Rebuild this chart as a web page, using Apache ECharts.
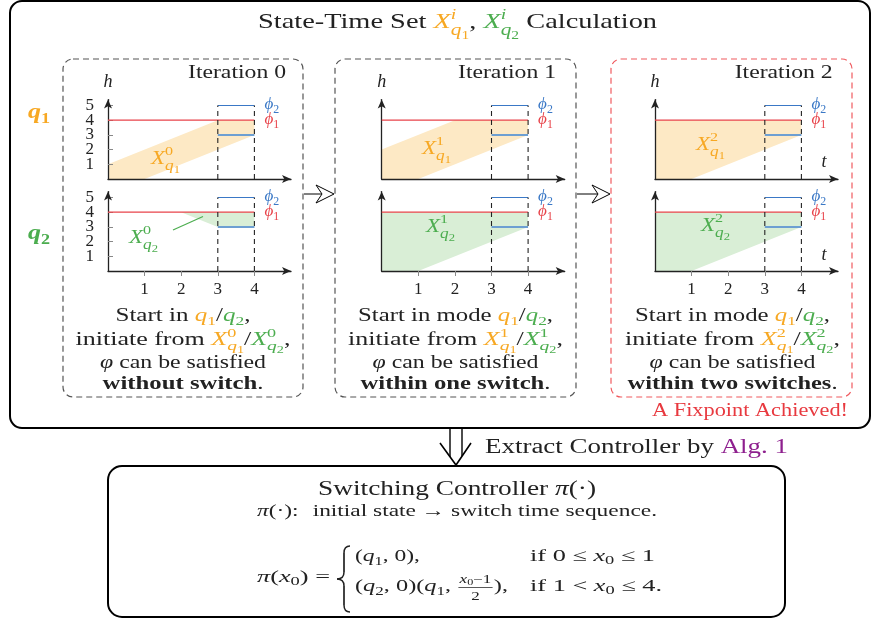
<!DOCTYPE html>
<html><head><meta charset="utf-8">
<script src="https://cdn.jsdelivr.net/npm/echarts@6/dist/echarts.min.js"></script>
<style>html,body{margin:0;padding:0;background:#fff}#c{width:873px;height:618px}</style>
</head><body><div id="c"></div>
<script>
// ---------------- data ----------------
const xTicks = [1, 2, 3, 4];
const yTicks = [1, 2, 3, 4, 5];
const phi1 = [[0, 4], [4, 4]];
const phi2Top = [[3, 5], [4, 5]];
const phi2Bottom = [[3, 3], [4, 3]];
const guide3 = [[3, 0], [3, 5]];
const guide4 = [[4, 0], [4, 5]];
const X0q1 = [[0, 0], [0, 1], [3, 4], [4, 4], [4, 3], [1, 0]];
const X0q2 = [[2, 4], [4, 4], [4, 3], [3, 3]];
const X1q1 = [[0, 0], [0, 2], [2, 4], [4, 4], [4, 3], [1, 0]];
const X1q2 = [[0, 0], [0, 4], [4, 4], [4, 3], [1, 0]];
const X2q1 = [[0, 0], [0, 4], [4, 4], [4, 3], [1, 0]];
const X2q2 = [[0, 0], [0, 4], [4, 4], [4, 3], [1, 0]];
const iterationNames = ['Iteration 0', 'Iteration 1', 'Iteration 2'];
const endings = ['without switch', 'within one switch', 'within two switches'];

// ---------------- layout ----------------
const PX = [108, 381.7, 655], UX = 36.6, OY = [179, 271], UY = 14.7, XMAX = 5, YMAX = 5.4;
const CX = [183, 455.5, 732.5];
const INK = '#222', OC = '#f7a823', GC = '#4cad4f';
const FILL_O = '#fde9c5', FILL_G = '#d9eed6';
const RED = '#e8434a', BLUE = '#3a78c6', LBLUE = '#6d9fd2';
const FF = '"Liberation Serif", "DejaVu Serif", serif';

const cv = document.createElement('canvas').getContext('2d');
function fontStr(it, b, size) { return (it ? 'italic ' : '') + (b ? 'bold ' : '') + size.toFixed(2) + 'px ' + FF; }
function measure(t, it, b, size) { cv.font = fontStr(it, b, size); return cv.measureText(t).width; }

function lay(tokens, base, x, out) {
  const start = x;
  for (let tk of tokens) {
    if (typeof tk === 'string') tk = { t: tk };
    if (tk.sp != null) { x += tk.sp * base; continue; }
    if (tk.stack) {
      const w1 = lay(tk.sup, base, x, out);
      const w2 = lay(tk.sub, base, x, out);
      x += Math.max(w1, w2); continue;
    }
    if (tk.frac) {
      const wn = lay(tk.num, base, 0, null), wd = lay(tk.den, base, 0, null);
      const w = Math.max(wn, wd) + 0.2 * base;
      lay(tk.num, base, x + (w - wn) / 2, out);
      lay(tk.den, base, x + (w - wd) / 2, out);
      if (out) out.push({ type: 'line', z: 50, shape: { x1: x + 0.05 * base, y1: -0.27 * base, x2: x + w - 0.05 * base, y2: -0.27 * base }, style: { stroke: tk.c || INK, lineWidth: 0.8 } });
      x += w; continue;
    }
    const size = base * (tk.s || 1);
    const w = measure(tk.t, tk.it, tk.b, size);
    if (out) out.push({
      type: 'text', z: 50, x: x, y: (tk.dy || 0) * base - 0.34 * size,
      style: { text: tk.t, font: fontStr(tk.it, tk.b, size), fill: tk.c || INK,
        align: 'left', verticalAlign: 'middle', textAlign: 'left', textVerticalAlign: 'middle' }
    });
    x += w + (tk.k || 0) * base;
  }
  return x - start;
}
function mline(x, y, tokens, o) {
  const base = o.size, kids = [];
  const nat = lay(tokens, base, 0, null);
  const k = o.w ? o.w / nat : 1;
  const sx = o.align === 'left' ? 0 : o.align === 'right' ? -nat : -nat / 2;
  lay(tokens, base, sx, kids);
  return { type: 'group', x: x, y: y, z: 50, scaleX: k, scaleY: 1, children: kids, silent: true };
}
function Xset(sup, sub, c, supIt) {
  return [{ t: 'X', it: 1, c: c },
    { stack: 1, sup: [{ t: sup, it: supIt, s: 0.7, dy: -0.45, c: c }],
      sub: [{ t: 'q', it: 1, s: 0.75, dy: 0.3, c: c }, { t: sub, s: 0.55, dy: 0.45, c: c }] }];
}
function qsub(n, c, b) { return [{ t: 'q', it: 1, b: b, c: c }, { t: n, s: 0.7, dy: 0.22, c: c, b: b }]; }

// ---------------- chart components ----------------
const chart = echarts.init(document.getElementById('c'), null, { renderer: 'canvas' });
const grids = [], xAxes = [], yAxes = [], extraY = [], series = [];
const sets = [[X0q1, X0q2], [X1q1, X1q2], [X2q1, X2q2]];
const labelFont = { fontFamily: FF, fontSize: 17, color: INK };
const yOdd = yTicks.filter(v => v % 2 === 1), yEven = yTicks.filter(v => v % 2 === 0);

function polySeries(g, verts, color) {
  return {
    type: 'custom', xAxisIndex: g, yAxisIndex: g, data: verts, silent: true, z: 1, clip: false,
    renderItem: (params, api) => {
      if (params.dataIndex !== 0) return null;
      return { type: 'polygon', shape: { points: verts.map(v => api.coord(v)) }, style: { fill: color } };
    }
  };
}
function lineSeries(g, data, color, width, dash) {
  return { type: 'line', xAxisIndex: g, yAxisIndex: g, data: data, symbol: 'none', silent: true, z: 4,
    lineStyle: { color: color, width: width, type: dash ? [5, 4] : 'solid', cap: 'butt' } };
}
function yAxisDef(g, show, vals, line) {
  return {
    gridIndex: g, type: 'value', min: 0, max: YMAX, interval: 1, z: 3, position: 'left',
    axisLine: { show: line, onZero: false, lineStyle: { color: '#222', width: 1.3 }, symbol: ['none', 'arrow'], symbolSize: [6, 9] },
    splitLine: { show: false },
    axisTick: { show: show, inside: true, customValues: vals, length: 5, lineStyle: { color: '#888', width: 1 } },
    axisLabel: { show: show, customValues: vals, margin: 14, showMinLabel: true, showMaxLabel: true, ...labelFont }
  };
}

for (let p = 0; p < 3; p++) {
  for (let r = 0; r < 2; r++) {
    const g = p * 2 + r;
    grids.push({ left: PX[p], top: OY[r] - YMAX * UY, width: XMAX * UX, height: YMAX * UY, outerBoundsMode: 'none' });
    const showX = r === 1;
    xAxes.push({
      gridIndex: g, type: 'value', min: 0, max: XMAX, interval: 1, z: 3,
      axisLine: { show: true, onZero: false, lineStyle: { color: '#222', width: 1.3 }, symbol: ['none', 'arrow'], symbolSize: [6, 9] },
      splitLine: { show: false },
      axisTick: { show: showX, customValues: xTicks, length: 5, lineStyle: { color: '#888', width: 1 } },
      axisLabel: { show: showX, customValues: xTicks, margin: 10, showMinLabel: true, showMaxLabel: true, ...labelFont }
    });
    const showY = p === 0;
    yAxes.push(yAxisDef(g, showY, yOdd, true));
    if (showY) extraY.push(yAxisDef(g, true, yEven, false));
    series.push(polySeries(g, sets[p][r], r === 0 ? FILL_O : FILL_G));
    series.push(lineSeries(g, phi1, RED, 1.3));
    series.push(lineSeries(g, phi2Top, BLUE, 1.2));
    series.push(lineSeries(g, phi2Bottom, LBLUE, 2));
    series.push(lineSeries(g, guide3, '#222', 1.1, true));
    series.push(lineSeries(g, guide4, '#222', 1.1, true));
  }
}

// ---------------- graphics ----------------
const gr = [];
const S = (o) => Object.assign({ z: 50, silent: true }, o);
// frames
gr.push(S({ type: 'rect', shape: { x: 10, y: 1, width: 860, height: 427, r: 12 }, style: { fill: 'none', stroke: '#000', lineWidth: 2 } }));
gr.push(S({ type: 'rect', shape: { x: 108, y: 466, width: 677, height: 151, r: 14 }, style: { fill: 'none', stroke: '#000', lineWidth: 2 } }));
const boxes = [[63, 303, '#555'], [335, 576, '#555'], [611, 852, '#f05a5f']];
boxes.forEach(b => gr.push(S({ type: 'rect', shape: { x: b[0], y: 59, width: b[1] - b[0], height: 338, r: 10 },
  style: { fill: 'none', stroke: b[2], lineWidth: 1.2, lineDash: [6, 4] } })));

// arrows between panels
[[304, 316, 334], [577, 592, 610]].forEach(a => {
  gr.push(S({ type: 'line', shape: { x1: a[0], y1: 194, x2: a[1] + 6, y2: 194 }, style: { stroke: '#000', lineWidth: 1 } }));
  gr.push(S({ type: 'polygon', shape: { points: [[a[1], 185], [a[2], 194], [a[1], 203], [a[1] + 6, 194]] }, style: { fill: '#fff', stroke: '#000', lineWidth: 1 } }));
});
// double arrow down
gr.push(S({ type: 'line', shape: { x1: 450, y1: 428, x2: 450, y2: 457 }, style: { stroke: '#000', lineWidth: 1.4 } }));
gr.push(S({ type: 'line', shape: { x1: 462, y1: 428, x2: 462, y2: 456 }, style: { stroke: '#000', lineWidth: 1.4 } }));
gr.push(S({ type: 'polyline', shape: { points: [[440, 443], [456, 465], [471, 443]] }, style: { fill: 'none', stroke: '#000', lineWidth: 1.6 } }));

// title
gr.push(mline(457.5, 30, ['State-Time Set ', ...Xset('i', '1', OC, 1), ', ', ...Xset('i', '2', GC, 1), ' Calculation'], { size: 21, w: 399 }));
// mode labels
gr.push(mline(28, 120, qsub('1', OC, 1), { size: 21, align: 'left', w: 22 }));
gr.push(mline(28, 241, qsub('2', GC, 1), { size: 21, align: 'left', w: 22 }));

const iterRight = [286, 556, 832.7];
const l1w = [135, 195, 195], l4w = [161, 190, 210];
for (let p = 0; p < 3; p++) {
  gr.push(mline(iterRight[p], 79, [iterationNames[p]], { size: 18, align: 'right', w: 98 }));
  gr.push(mline(PX[p], 88, [{ t: 'h', it: 1 }], { size: 18 }));
  for (let r = 0; r < 2; r++) {
    const lx = PX[p] + 4 * UX + 10;
    gr.push(mline(lx, OY[r] - 5 * UY + 4.5, [{ t: 'ϕ', it: 1, c: BLUE }, { t: '2', s: 0.7, dy: 0.22, c: BLUE }], { size: 17, align: 'left' }));
    gr.push(mline(lx, OY[r] - 4 * UY + 5, [{ t: 'ϕ', it: 1, c: RED }, { t: '1', s: 0.7, dy: 0.22, c: RED }], { size: 17, align: 'left' }));
  }
  const cx = CX[p];
  const L1 = p === 0 ? ['Start in ', ...qsub('1', OC), '/', ...qsub('2', GC), ','] : ['Start in mode ', ...qsub('1', OC), '/', ...qsub('2', GC), ','];
  gr.push(mline(cx, 322.5, L1, { size: 18, w: l1w[p] }));
  gr.push(mline(cx, 346, ['initiate from ', ...Xset(String(p), '1', OC), '/', ...Xset(String(p), '2', GC), ','], { size: 18, w: 215 }));
  gr.push(mline(cx, 369, [{ t: 'φ', it: 1 }, ' can be satisfied'], { size: 18, w: 166 }));
  gr.push(mline(cx, 390, [{ t: endings[p], b: 1 }, '.'], { size: 18, w: l4w[p] }));
}
// set labels inside charts
const setPos = [[[151, 165], [129, 244]], [[422, 155], [426, 233]], [[696, 151], [701, 232]]];
for (let p = 0; p < 3; p++) for (let r = 0; r < 2; r++) {
  gr.push(mline(setPos[p][r][0], setPos[p][r][1], Xset(String(p), r === 0 ? '1' : '2', r === 0 ? OC : GC), { size: 19, align: 'left', w: 29 }));
}
gr.push(S({ type: 'line', shape: { x1: 173, y1: 230, x2: 203, y2: 216.5 }, style: { stroke: GC, lineWidth: 1.2 } }));
// t labels
gr.push(mline(824, 168, [{ t: 't', it: 1 }], { size: 18 }));
gr.push(mline(824, 261.5, [{ t: 't', it: 1 }], { size: 18 }));

gr.push(mline(848, 417, [{ t: 'A Fixpoint Achieved!', c: '#e8393f' }], { size: 18, align: 'right', w: 196 }));
gr.push(mline(485, 455, ['Extract Controller by ', { t: 'Alg. 1', c: '#8e1f8e' }], { size: 20, align: 'left', w: 303 }));

// bottom box
gr.push(mline(457, 497, ['Switching Controller ', { t: 'π', it: 1 }, '(·)'], { size: 20, w: 278 }));
gr.push(mline(457, 517, [{ t: 'π', it: 1 }, '(·):', { sp: 0.6 }, 'initial state → switch time sequence.'], { size: 17, w: 400 }));
gr.push(mline(257, 583, [{ t: 'π', it: 1 }, '(', { t: 'x', it: 1 }, { t: '0', s: 0.7, dy: 0.2 }, ') ='], { size: 17, align: 'left', w: 73 }));
gr.push(mline(355, 562, ['(', ...qsub('1'), ', 0),'], { size: 17, align: 'left', w: 65 }));
gr.push(mline(530, 562, ['if 0 ≤ ', { t: 'x', it: 1 }, { t: '0', s: 0.7, dy: 0.2 }, ' ≤ 1'], { size: 17, align: 'left', w: 125 }));
gr.push(mline(355, 592, ['(', ...qsub('2'), ', 0)(', ...qsub('1'), ', ',
  { frac: 1, num: [{ t: 'x', it: 1, s: 0.7, dy: -0.5 }, { t: '0', s: 0.5, dy: -0.4 }, { t: '−1', s: 0.7, dy: -0.5 }], den: [{ t: '2', s: 0.7, dy: 0.55 }] }, '),'],
  { size: 17, align: 'left', w: 153 }));
gr.push(mline(530, 592, ['if 1 < ', { t: 'x', it: 1 }, { t: '0', s: 0.7, dy: 0.2 }, ' ≤ 4.'], { size: 17, align: 'left', w: 132 }));
// brace
const bz = (x1, y1, c1x, c1y, c2x, c2y, x2, y2) => S({ type: 'bezierCurve', shape: { x1, y1, cpx1: c1x, cpy1: c1y, cpx2: c2x, cpy2: c2y, x2, y2 }, style: { stroke: INK, lineWidth: 1.5, fill: 'none' } });
const ln = (x1, y1, x2, y2) => S({ type: 'line', shape: { x1, y1, x2, y2 }, style: { stroke: INK, lineWidth: 1.7 } });
gr.push(bz(350, 546, 346, 546, 344, 549, 344, 553));
gr.push(ln(344, 553, 344, 572));
gr.push(bz(344, 572, 344, 577, 341, 579, 337, 579));
gr.push(bz(337, 579, 341, 579, 344, 581, 344, 586));
gr.push(ln(344, 586, 344, 605));
gr.push(bz(344, 605, 344, 609, 346, 612, 350, 612));

chart.setOption({
  animation: false,
  backgroundColor: '#fff',
  grid: grids, xAxis: xAxes, yAxis: yAxes.concat(extraY), series: series,
  graphic: { elements: gr }
});
</script></body></html>
